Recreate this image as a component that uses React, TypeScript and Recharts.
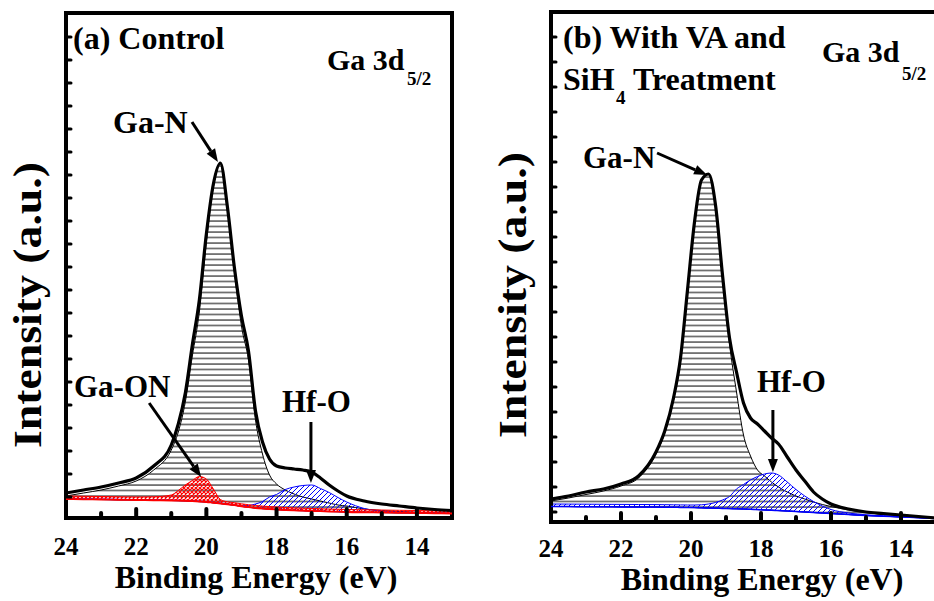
import { ComposedChart, Area, Line, XAxis, YAxis, ReferenceArea, ReferenceLine } from 'recharts'

const FONT = "'Liberation Serif', 'Times New Roman', Times, 'DejaVu Serif', 'Noto Serif', serif"

// (a) Control — binding energy grid (eV) and intensities (a.u.)
const energyA = [24, 23.5, 23, 22.5, 22, 21.5, 21, 20.8, 20.6, 20.4, 20.2, 20.0, 19.8, 19.6, 19.4, 19.2, 19.0, 18.8, 18.6, 18.4, 18.2, 18.0, 17.75, 17.5, 17.25, 17.0, 16.75, 16.5, 16.25, 16.0, 15.5, 15.0, 14.5, 14.0, 13.5, 13.0]
const envelopeA = [25, 28, 31, 35, 40, 52, 73, 94, 125, 173, 218, 284, 334, 355, 311, 250, 202, 167, 107, 76, 59, 52, 50, 49, 48, 46, 40, 33, 27, 22, 17, 14, 12, 10, 8.5, 7.5]
const baselineA = [19, 18.7, 18.5, 18.2, 18, 17.7, 17.5, 17.3, 17.1, 16.8, 16.4, 16, 15.2, 14.5, 13.7, 12.8, 11.7, 10.8, 10, 9.4, 8.9, 8.5, 8, 7.6, 7.3, 7, 6.8, 6.5, 6.3, 6, 5.7, 5.5, 5.2, 5, 4.7, 4.5]
const gaNA = [22, 25, 28, 32, 37, 48, 68, 86, 116, 162, 206, 276, 331, 354, 309, 246, 192, 158, 98, 64, 43, 34, 28, 24, 21, 19, 17, 15, 13, 12, 9, 7.5, 6.5, 5.7, 5.1, 4.7]
const gaONA = [22, 21.7, 21.5, 21.2, 21, 21.2, 23, 27.5, 33, 37.5, 41.5, 39, 29, 18.5, 16.2, 15.3, 14.2, 13.3, 12.5, 11.9, 11.4, 11, 10.5, 10.1, 9.8, 9.5, 9.3, 9, 8.8, 8.5, 8.2, 8, 7.7, 7.5, 7.2, 7]
const hfOA = [19.5, 19.2, 19, 18.7, 18.5, 18.2, 18, 17.8, 17.6, 17.3, 16.9, 16.5, 15.7, 15, 14.2, 13.3, 12.2, 12.5, 14, 16.5, 21, 23.5, 28.5, 31, 32.5, 33, 29.5, 25.5, 20.5, 16, 9.5, 7, 6, 5.5, 5, 4.8]

// (b) With VA and SiH4 treatment
const energyB = [24, 23.5, 23, 22.5, 22, 21.5, 21, 20.75, 20.5, 20.3, 20.1, 19.9, 19.7, 19.5, 19.3, 19.1, 18.9, 18.7, 18.5, 18.3, 18.1, 17.9, 17.7, 17.5, 17.25, 17, 16.75, 16.5, 16.25, 16, 15.5, 15, 14.5, 14, 13.5, 13]
const envelopeB = [23, 26, 30, 33, 38, 46, 70, 91, 124, 164, 232, 300, 342, 348, 317, 247, 184, 150, 119, 104, 98, 91, 84, 78, 65, 52, 41, 30, 23, 18, 13, 10, 8.5, 7, 5.5, 4]
const baselineB = [15.5, 15.4, 15.3, 15.2, 15.1, 15, 14.9, 14.8, 14.7, 14.6, 14.5, 14.4, 14.2, 14, 13.8, 13.6, 13.4, 13.2, 13, 12.7, 12.4, 12.1, 11.8, 11.4, 11, 10.5, 10, 9.5, 9, 8.5, 7.5, 6.5, 5.8, 5, 4.3, 3.5]
const gaNB = [21, 24, 27.5, 31, 36, 44, 68, 89, 122, 161, 229, 298, 341, 348, 316, 244, 178, 130, 87, 66, 52, 46, 40, 35, 30, 26, 23, 20, 17.5, 15.5, 12, 9.5, 7.5, 6, 4.7, 3.7]
const hfOB = [18, 17.9, 17.8, 17.7, 17.6, 17.5, 17.4, 17.3, 17.2, 17.1, 17, 17, 17.2, 18, 19.5, 22, 25.5, 33, 37.5, 42, 45.5, 48, 49, 47, 40, 32.5, 26, 20.5, 16, 12.5, 9, 7.2, 6.2, 5.3, 4.5, 3.6]

const xTicks = [24, 23, 22, 21, 20, 19, 18, 17, 16, 15, 14]
const xLabels = [24, 22, 20, 18, 16, 14]
const yTicksA = [21, 44, 67, 90, 113, 136, 159, 182, 205, 228, 251, 274, 297, 320, 343, 366, 389, 412, 435, 458, 481]
const yTicksB = [10, 35, 60, 85, 110, 135, 160, 185, 210, 235, 260, 285, 310, 335, 360, 385, 410, 435, 460, 485]

const rowsA = energyA.map((e, i) => ({
  e,
  env: envelopeA[i],
  base: baselineA[i],
  gan: [baselineA[i], gaNA[i]],
  gaon: [baselineA[i], gaONA[i]],
  hfo: [baselineA[i], hfOA[i]],
}))

const rowsB = energyB.map((e, i) => ({
  e,
  env: envelopeB[i],
  base: baselineB[i],
  gan: [baselineB[i], gaNB[i]],
  hfo: [baselineB[i], hfOB[i]],
}))

function bottomTick(labelDy: number) {
  return (p: any) => {
    const major = xLabels.includes(p.payload.value)
    return (
      <g>
        <line x1={p.x} y1={p.y} x2={p.x} y2={p.y - (major ? 9 : 5)} stroke="#000" strokeWidth={4} strokeLinecap="round" />
        {major && (
          <text x={p.x} y={p.y + labelDy} textAnchor="middle" style={{ fontFamily: FONT, fontWeight: 'bold', fontSize: 25 }} fill="#000">
            {p.payload.value}
          </text>
        )}
      </g>
    )
  }
}

const topTick = (p: any) => {
  const major = xLabels.includes(p.payload.value)
  return <line x1={p.x} y1={p.y} x2={p.x} y2={p.y + (major ? 9 : 5)} stroke="#000" strokeWidth={4} strokeLinecap="round" />
}

const leftTick = (p: any) => <line x1={p.x} y1={p.y} x2={p.x + 5} y2={p.y} stroke="#000" strokeWidth={3} strokeLinecap="round" />
const rightTick = (p: any) => <line x1={p.x} y1={p.y} x2={p.x - 5} y2={p.y} stroke="#000" strokeWidth={3} strokeLinecap="round" />

const arrowShape = (p: any) => {
  const { x1, y1, x2, y2 } = p
  const a = Math.atan2(y2 - y1, x2 - x1)
  const len = 13
  const half = 5
  const bx = x2 - len * Math.cos(a)
  const by = y2 - len * Math.sin(a)
  const px = -Math.sin(a) * half
  const py = Math.cos(a) * half
  return (
    <g>
      <line x1={x1} y1={y1} x2={bx} y2={by} stroke="#000" strokeWidth={3} />
      <polygon points={`${x2},${y2} ${bx + px},${by + py} ${bx - px},${by - py}`} fill="#000" />
    </g>
  )
}

function Patterns({ id }: { id: string }) {
  return (
    <defs>
      <pattern id={`h-${id}`} width={8} height={5.5} patternUnits="userSpaceOnUse">
        <line x1={0} y1={1} x2={8} y2={1} stroke="#000" strokeWidth={1} />
      </pattern>
      <pattern id={`x-${id}`} width={4} height={4} patternUnits="userSpaceOnUse">
        <path d="M0,0 L4,4 M4,0 L0,4" stroke="#ff0000" strokeWidth={1.2} />
      </pattern>
      <pattern id={`d-${id}`} width={5} height={5} patternUnits="userSpaceOnUse">
        <path d="M0,5 L5,0 M-1,1 L1,-1 M4,6 L6,4" stroke="#0000ff" strokeWidth={1} />
      </pattern>
    </defs>
  )
}

const txt = (size: number) => ({ fontFamily: FONT, fontWeight: 'bold' as const, fontSize: size })

export default function App() {
  return (
    <div style={{ position: 'fixed', left: 0, top: 0, width: 934, height: 601, overflow: 'hidden', background: '#fff', fontFamily: FONT }}>
      <div style={{ position: 'absolute', left: 0, top: 0 }}>
        <ComposedChart width={480} height={601} data={rowsA} margin={{ top: 13, right: 28, bottom: 0, left: 0 }}>
          <Patterns id="a" />
          <XAxis dataKey="e" type="number" domain={[13, 24]} reversed allowDataOverflow ticks={xTicks} interval={0} height={83} axisLine={false} tickLine={false} tickSize={0} tickMargin={0} tick={bottomTick(37)} />
          <XAxis xAxisId="t" orientation="top" dataKey="e" type="number" domain={[13, 24]} reversed allowDataOverflow ticks={xTicks} interval={0} height={0} axisLine={false} tickLine={false} tickSize={0} tickMargin={0} tick={topTick} />
          <YAxis type="number" domain={[0, 505]} allowDataOverflow ticks={yTicksA} interval={0} width={66} axisLine={false} tickLine={false} tickSize={0} tickMargin={0} tick={leftTick} />
          <YAxis yAxisId="r" orientation="right" type="number" domain={[0, 505]} allowDataOverflow ticks={yTicksA} interval={0} width={0} axisLine={false} tickLine={false} tickSize={0} tickMargin={0} tick={rightTick} />
          <Area dataKey="gan" type="monotone" stroke="#000" strokeWidth={1} fill="url(#h-a)" fillOpacity={1} isAnimationActive={false} />
          <Area dataKey="hfo" type="monotone" stroke="#0000ff" strokeWidth={1} fill="url(#d-a)" fillOpacity={1} isAnimationActive={false} />
          <Area dataKey="gaon" type="monotone" stroke="#ff0000" strokeWidth={1} fill="url(#x-a)" fillOpacity={1} isAnimationActive={false} />
          <Line dataKey="base" type="monotone" stroke="#ff0000" strokeWidth={1.8} dot={false} isAnimationActive={false} />
          <Line dataKey="env" type="monotone" stroke="#000" strokeWidth={3.2} dot={false} isAnimationActive={false} />
          <ReferenceLine segment={[{ x: 20.41, y: 396 }, { x: 19.67, y: 356 }]} shape={arrowShape} />
          <ReferenceLine segment={[{ x: 21.63, y: 115 }, { x: 20.15, y: 41 }]} shape={arrowShape} />
          <ReferenceLine segment={[{ x: 17.02, y: 96 }, { x: 17.02, y: 35 }]} shape={arrowShape} />
          <ReferenceArea x1={24} x2={13} y1={0} y2={505} fill="none" stroke="#000" strokeWidth={4} ifOverflow="visible" />
        </ComposedChart>
      </div>
      <div style={{ position: 'absolute', left: 485, top: 0 }}>
        <ComposedChart width={480} height={601} data={rowsB} margin={{ top: 12, right: 29, bottom: 0, left: 0 }}>
          <Patterns id="b" />
          <XAxis dataKey="e" type="number" domain={[13, 24]} reversed allowDataOverflow ticks={xTicks} interval={0} height={79} axisLine={false} tickLine={false} tickSize={0} tickMargin={0} tick={bottomTick(35)} />
          <XAxis xAxisId="t" orientation="top" dataKey="e" type="number" domain={[13, 24]} reversed allowDataOverflow ticks={xTicks} interval={0} height={0} axisLine={false} tickLine={false} tickSize={0} tickMargin={0} tick={topTick} />
          <YAxis type="number" domain={[0, 510]} allowDataOverflow ticks={yTicksB} interval={0} width={66} axisLine={false} tickLine={false} tickSize={0} tickMargin={0} tick={leftTick} />
          <YAxis yAxisId="r" orientation="right" type="number" domain={[0, 510]} allowDataOverflow ticks={yTicksB} interval={0} width={0} axisLine={false} tickLine={false} tickSize={0} tickMargin={0} tick={rightTick} />
          <Area dataKey="gan" type="monotone" stroke="#000" strokeWidth={1} fill="url(#h-b)" fillOpacity={1} isAnimationActive={false} />
          <Area dataKey="hfo" type="monotone" stroke="#0000ff" strokeWidth={1} fill="url(#d-b)" fillOpacity={1} isAnimationActive={false} />
          <Line dataKey="base" type="monotone" stroke="#0000ff" strokeWidth={1.5} dot={false} isAnimationActive={false} />
          <Line dataKey="env" type="monotone" stroke="#000" strokeWidth={3.2} dot={false} isAnimationActive={false} />
          <ReferenceLine segment={[{ x: 20.97, y: 369 }, { x: 19.54, y: 347 }]} shape={arrowShape} />
          <ReferenceLine segment={[{ x: 17.66, y: 112 }, { x: 17.66, y: 50 }]} shape={arrowShape} />
          <ReferenceArea x1={24} x2={13} y1={0} y2={510} fill="none" stroke="#000" strokeWidth={4} ifOverflow="visible" />
        </ComposedChart>
      </div>
      <svg width={934} height={601} style={{ position: 'absolute', left: 0, top: 0, pointerEvents: 'none' }} fill="#000">
        {/* panel (a) */}
        <text x={73} y={49} style={txt(32)}>(a) Control</text>
        <text x={327} y={70} style={txt(30)}>Ga 3d</text>
        <text x={407} y={85} style={txt(19)}>5/2</text>
        <text x={113} y={133} style={txt(32)}>Ga-N</text>
        <text x={74} y={397} style={txt(31)}>Ga-ON</text>
        <text x={282} y={412} style={txt(31)}>Hf-O</text>
        <text x={256} y={588} textAnchor="middle" style={txt(32)}>Binding Energy (eV)</text>
        <text transform="translate(41,305) rotate(-90)" textAnchor="middle" style={txt(40)} textLength={286} lengthAdjust="spacingAndGlyphs">Intensity (a.u.)</text>
        {/* panel (b) */}
        <text x={563} y={48} style={txt(32)}>(b) With VA and</text>
        <text x={563} y={90} style={txt(32)}>SiH</text>
        <text x={616} y={104} style={txt(19)}>4</text>
        <text x={633} y={90} style={txt(32)}>Treatment</text>
        <text x={822} y={62} style={txt(30)}>Ga 3d</text>
        <text x={902} y={80} style={txt(19)}>5/2</text>
        <text x={583} y={168} style={txt(31)}>Ga-N</text>
        <text x={757} y={392} style={txt(31)}>Hf-O</text>
        <text x={762} y={590} textAnchor="middle" style={txt(32)}>Binding Energy (eV)</text>
        <text transform="translate(526,295) rotate(-90)" textAnchor="middle" style={txt(40)} textLength={286} lengthAdjust="spacingAndGlyphs">Intensity (a.u.)</text>
      </svg>
    </div>
  )
}
